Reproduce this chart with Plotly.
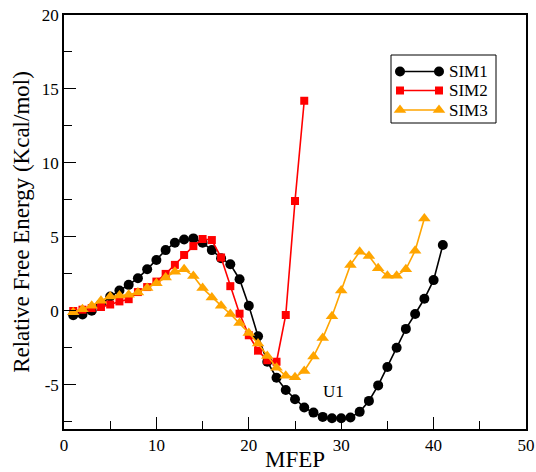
import plotly.graph_objects as go

# Minimum free energy path profiles (reaction coordinate index vs. relative free energy)
sim1_x = list(range(1, 42))
sim1_y = [-0.30, -0.25, 0.00, 0.45, 0.96, 1.37, 1.75, 2.20, 2.80, 3.43,
          4.10, 4.60, 4.82, 4.89, 4.60, 4.10, 3.55, 3.14, 2.13, 0.34,
          -1.73, -3.45, -4.53, -5.36, -5.99, -6.55, -6.89, -7.18, -7.27, -7.27,
          -7.22, -6.84, -6.10, -5.05, -3.81, -2.51, -1.23, -0.22, 0.81, 2.07,
          4.44]

sim2_x = list(range(1, 27))
sim2_y = [-0.02, 0.07, 0.18, 0.25, 0.42, 0.63, 0.78, 1.26, 1.60, 1.97,
          2.49, 3.10, 3.77, 4.37, 4.85, 4.78, 3.60, 1.66, -0.20, -1.66,
          -2.70, -3.35, -3.45, -0.29, 7.42, 14.20]

sim3_x = list(range(1, 40))
sim3_y = [-0.10, 0.10, 0.34, 0.67, 0.96, 1.03, 1.08, 1.23, 1.53, 1.86,
          2.24, 2.64, 2.80, 2.35, 1.53, 0.90, 0.34, -0.22, -0.83, -1.50,
          -2.22, -3.07, -3.86, -4.40, -4.50, -4.08, -3.10, -1.85, -0.38, 1.37,
          3.10, 3.99, 3.70, 2.87, 2.36, 2.36, 2.80, 4.06, 6.24]

series_names = ["SIM1", "SIM2", "SIM3"]
series_colors = ["#000000", "#ff0000", "#ffa500"]
series_symbols = ["circle", "square", "triangle-up"]
series_sizes = [10, 8, 11]

x_ticks = [0, 10, 20, 30, 40, 50]
y_ticks = [-5, 0, 5, 10, 15, 20]

FONT = "Liberation Serif"

# Figure geometry in pixels
W, H = 536, 472
ML, MR, MT, MB = 64, 10, 15, 43
PW, PH = W - ML - MR, H - MT - MB


def px_x(p):
    return (p - ML) / PW


def px_y(p):
    return (H - MB - p) / PH


fig = go.Figure()

for xs, ys, name, col, sym, sz in zip(
    [sim1_x, sim2_x, sim3_x], [sim1_y, sim2_y, sim3_y],
    series_names, series_colors, series_symbols, series_sizes
):
    fig.add_trace(go.Scatter(
        x=xs, y=ys, name=name, mode="lines+markers",
        line=dict(color=col, width=1.6),
        marker=dict(symbol=sym, size=sz, color=col, line=dict(width=0)),
        showlegend=False,
    ))

# Legend box drawn on a hidden overlay axis spanning the plot area
leg_left, leg_right, leg_top, leg_bottom = 391, 496, 55, 123
row_y = [71.5, 90.5, 110]
line_x0, line_x1, text_x = 400, 439, 447

shapes = [dict(type="rect", xref="paper", yref="paper",
               x0=px_x(leg_left), x1=px_x(leg_right),
               y0=px_y(leg_bottom), y1=px_y(leg_top),
               line=dict(color="black", width=1), fillcolor="white",
               layer="below")]

annotations = []
for ry, name, col, sym, sz in zip(row_y, series_names, series_colors,
                                  series_symbols, series_sizes):
    fig.add_trace(go.Scatter(
        x=[px_x(line_x0), px_x(line_x1)], y=[px_y(ry), px_y(ry)],
        xaxis="x2", yaxis="y2", mode="lines+markers",
        line=dict(color=col, width=1.6),
        marker=dict(symbol=sym, size=sz, color=col, line=dict(width=0)),
        showlegend=False, hoverinfo="skip",
    ))
    annotations.append(dict(
        x=px_x(text_x), y=px_y(ry), xref="paper", yref="paper",
        text=name, showarrow=False, xanchor="left", yanchor="middle",
        font=dict(family=FONT, size=17, color="black"),
    ))

annotations.append(dict(
    x=29.2, y=-5.45, xref="x", yref="y", text="U1", showarrow=False,
    font=dict(family=FONT, size=17, color="black"),
))

axis_common = dict(
    showgrid=False, zeroline=False, showline=True, linecolor="black",
    linewidth=1.5, mirror=True, ticks="inside", ticklen=12, tickwidth=1.3,
    tickcolor="black", tickfont=dict(family=FONT, size=17, color="black"),
    automargin=False,
)

fig.update_layout(
    width=W, height=H,
    margin=dict(l=ML, r=MR, t=MT, b=MB),
    paper_bgcolor="white", plot_bgcolor="white",
    font=dict(family=FONT, color="black"),
    xaxis=dict(
        range=[0, 50], tickvals=x_ticks, ticktext=[str(v) for v in x_ticks],
        minor=dict(dtick=5, tick0=0, ticks="inside", ticklen=8,
                   tickwidth=1.3, tickcolor="black"),
        title=dict(text="MFEP", font=dict(family=FONT, size=23), standoff=2),
        **axis_common,
    ),
    yaxis=dict(
        range=[-8, 20], tickvals=y_ticks, ticktext=[str(v) for v in y_ticks],
        minor=dict(dtick=2.5, tick0=0, ticks="inside", ticklen=8,
                   tickwidth=1.3, tickcolor="black"),
        title=dict(text="Relative Free Energy (Kcal/mol)",
                   font=dict(family=FONT, size=23), standoff=6),
        **axis_common,
    ),
    xaxis2=dict(overlaying="x", range=[0, 1], visible=False),
    yaxis2=dict(overlaying="y", range=[0, 1], visible=False),
    shapes=shapes,
    annotations=annotations,
    showlegend=False,
)

fig.write_html("out.html")
